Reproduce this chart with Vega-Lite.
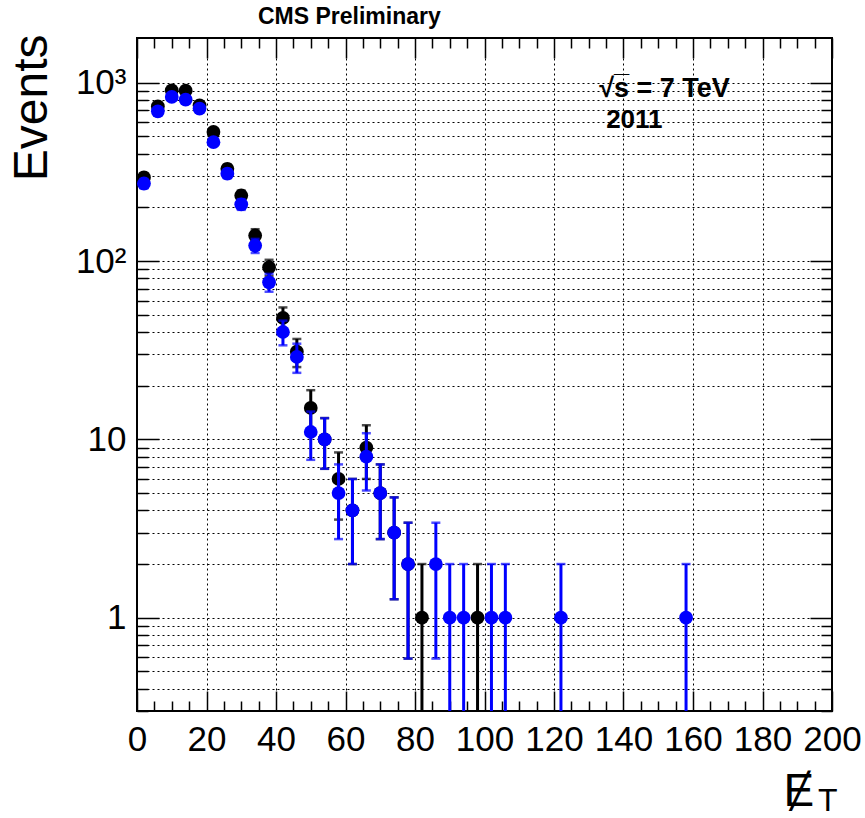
{
  "$schema": "https://vega.github.io/schema/vega-lite/v6.json",
  "width": 695,
  "height": 673,
  "autosize": {"type": "none"},
  "padding": {"left": 137, "top": 38, "right": 33, "bottom": 107},
  "background": "white",
  "config": {
    "view": {"stroke": "black", "strokeWidth": 2},
    "font": "Liberation Sans",
    "axis": {"labelFont": "Liberation Sans", "titleFont": "Liberation Sans", "domain": false}
  },
  "datasets": {
    "pts": [
      {"x": 2, "y": 294, "lo": 276.85, "hi": 311.15, "s": "black"},
      {"x": 6, "y": 736, "lo": 708.87, "hi": 763.13, "s": "black"},
      {"x": 10, "y": 906, "lo": 875.9, "hi": 936.1, "s": "black"},
      {"x": 14, "y": 902, "lo": 871.97, "hi": 932.03, "s": "black"},
      {"x": 18, "y": 746, "lo": 718.69, "hi": 773.31, "s": "black"},
      {"x": 22, "y": 529, "lo": 506, "hi": 552, "s": "black"},
      {"x": 26, "y": 329, "lo": 310.86, "hi": 347.14, "s": "black"},
      {"x": 30, "y": 233, "lo": 217.74, "hi": 248.26, "s": "black"},
      {"x": 34, "y": 139, "lo": 127.21, "hi": 150.79, "s": "black"},
      {"x": 38, "y": 92, "lo": 82.41, "hi": 101.59, "s": "black"},
      {"x": 42, "y": 48, "lo": 41.07, "hi": 54.93, "s": "black"},
      {"x": 46, "y": 31, "lo": 25.43, "hi": 36.57, "s": "black"},
      {"x": 50, "y": 15, "lo": 11.13, "hi": 18.87, "s": "black"},
      {"x": 54, "y": 10, "lo": 6.84, "hi": 13.16, "s": "black"},
      {"x": 58, "y": 6, "lo": 3.55, "hi": 8.45, "s": "black"},
      {"x": 62, "y": 4, "lo": 2, "hi": 6, "s": "black"},
      {"x": 66, "y": 9, "lo": 6, "hi": 12, "s": "black"},
      {"x": 70, "y": 5, "lo": 2.76, "hi": 7.24, "s": "black"},
      {"x": 74, "y": 3, "lo": 1.27, "hi": 4.73, "s": "black"},
      {"x": 78, "y": 2, "lo": 0.59, "hi": 3.41, "s": "black"},
      {"x": 82, "y": 1, "lo": 0, "hi": 2, "s": "black"},
      {"x": 98, "y": 1, "lo": 0, "hi": 2, "s": "black"},
      {"x": 2, "y": 272, "lo": 255.51, "hi": 288.49, "s": "blue"},
      {"x": 6, "y": 691, "lo": 664.71, "hi": 717.29, "s": "blue"},
      {"x": 10, "y": 832, "lo": 803.16, "hi": 860.84, "s": "blue"},
      {"x": 14, "y": 804, "lo": 775.65, "hi": 832.35, "s": "blue"},
      {"x": 18, "y": 716, "lo": 689.24, "hi": 742.76, "s": "blue"},
      {"x": 22, "y": 464, "lo": 442.46, "hi": 485.54, "s": "blue"},
      {"x": 26, "y": 309, "lo": 291.42, "hi": 326.58, "s": "blue"},
      {"x": 30, "y": 208, "lo": 193.58, "hi": 222.42, "s": "blue"},
      {"x": 34, "y": 122, "lo": 110.95, "hi": 133.05, "s": "blue"},
      {"x": 38, "y": 76, "lo": 67.28, "hi": 84.72, "s": "blue"},
      {"x": 42, "y": 40, "lo": 33.68, "hi": 46.32, "s": "blue"},
      {"x": 46, "y": 29, "lo": 23.61, "hi": 34.39, "s": "blue"},
      {"x": 50, "y": 11, "lo": 7.68, "hi": 14.32, "s": "blue"},
      {"x": 54, "y": 10, "lo": 6.84, "hi": 13.16, "s": "blue"},
      {"x": 58, "y": 5, "lo": 2.76, "hi": 7.24, "s": "blue"},
      {"x": 62, "y": 4, "lo": 2, "hi": 6, "s": "blue"},
      {"x": 66, "y": 8, "lo": 5.17, "hi": 10.83, "s": "blue"},
      {"x": 70, "y": 5, "lo": 2.76, "hi": 7.24, "s": "blue"},
      {"x": 74, "y": 3, "lo": 1.27, "hi": 4.73, "s": "blue"},
      {"x": 78, "y": 2, "lo": 0.59, "hi": 3.41, "s": "blue"},
      {"x": 86, "y": 2, "lo": 0.59, "hi": 3.41, "s": "blue"},
      {"x": 90, "y": 1, "lo": 0, "hi": 2, "s": "blue"},
      {"x": 94, "y": 1, "lo": 0, "hi": 2, "s": "blue"},
      {"x": 102, "y": 1, "lo": 0, "hi": 2, "s": "blue"},
      {"x": 106, "y": 1, "lo": 0, "hi": 2, "s": "blue"},
      {"x": 122, "y": 1, "lo": 0, "hi": 2, "s": "blue"},
      {"x": 158, "y": 1, "lo": 0, "hi": 2, "s": "blue"}
    ]
  },
  "data": {"name": "pts"},
  "resolve": {"axis": {"x": "independent", "y": "independent"}},
  "layer": [
    {
      "transform": [{"filter": "datum.s === 'black'"}],
      "mark": {"type": "rule", "color": "black", "strokeWidth": 3, "invalid": "show"},
      "encoding": {
        "x": {
          "field": "x", "type": "quantitative",
          "scale": {"domain": [0, 200], "nice": false, "zero": false},
          "axis": {
            "orient": "bottom",
            "values": [0,5,10,15,20,25,30,35,40,45,50,55,60,65,70,75,80,85,90,95,100,105,110,115,120,125,130,135,140,145,150,155,160,165,170,175,180,185,190,195,200],
            "labelExpr": "datum.value % 20 === 0 ? datum.label : ''",
            "labelFontSize": 35,
            "labelColor": "black",
            "labelPadding": 31,
            "labelFlush": false,
            "labelOverlap": false,
            "tickColor": "black",
            "tickWidth": 1.5,
            "tickSize": {"condition": {"test": "datum.value % 20 === 0", "value": -20}, "value": -10},
            "grid": true,
            "gridColor": "black",
            "gridDash": [2, 3],
            "gridWidth": 1,
            "gridOpacity": {"condition": {"test": "datum.value % 20 === 0", "value": 1}, "value": 0},
            "title": "Ɇ",
            "titleFontSize": 46,
            "titleFontWeight": "normal",
            "titleColor": "black",
            "titleAlign": "left",
            "titleBaseline": "alphabetic",
            "titleAnchor": "start",
            "titleX": 646,
            "titleY": 94
          }
        },
        "y": {
          "field": "lo", "type": "quantitative",
          "scale": {"type": "log", "domain": [0.3, 1780], "nice": false, "clamp": true},
          "axis": {
            "orient": "left",
            "values": [0.3,0.4,0.5,0.6,0.7,0.8,0.9,1,2,3,4,5,6,7,8,9,10,20,30,40,50,60,70,80,90,100,200,300,400,500,600,700,800,900,1000],
            "labelExpr": "datum.value == 1 ? '1' : datum.value == 10 ? '10' : datum.value == 100 ? '10²' : datum.value == 1000 ? '10³' : ''",
            "labelFontSize": 35,
            "labelColor": "black",
            "labelPadding": 33,
            "labelFlush": false,
            "labelOverlap": false,
            "tickColor": "black",
            "tickWidth": 1.5,
            "tickSize": {"condition": {"test": "indexof([1,10,100,1000], datum.value) >= 0", "value": -22}, "value": -11},
            "grid": true,
            "gridColor": "black",
            "gridDash": [2, 3],
            "gridWidth": 1,
            "title": "Events",
            "titleFontSize": 48,
            "titleFontWeight": "normal",
            "titleColor": "black",
            "titleAngle": -90,
            "titleAlign": "right",
            "titleBaseline": "alphabetic",
            "titleX": -91,
            "titleY": -4
          }
        },
        "y2": {"field": "hi"}
      }
    },
    {
      "transform": [{"filter": "datum.s === 'black'"}],
      "mark": {"type": "tick", "orient": "horizontal", "color": "black", "size": 9, "thickness": 2.5},
      "encoding": {
        "x": {
          "field": "x", "type": "quantitative",
          "axis": {
            "orient": "top",
            "values": [0,5,10,15,20,25,30,35,40,45,50,55,60,65,70,75,80,85,90,95,100,105,110,115,120,125,130,135,140,145,150,155,160,165,170,175,180,185,190,195,200],
            "labels": false,
            "grid": false,
            "title": null,
            "tickColor": "black",
            "tickWidth": 1.5,
            "tickSize": {"condition": {"test": "datum.value % 20 === 0", "value": -20}, "value": -10}
          }
        },
        "y": {
          "field": "hi", "type": "quantitative",
          "axis": {
            "orient": "right",
            "values": [0.3,0.4,0.5,0.6,0.7,0.8,0.9,1,2,3,4,5,6,7,8,9,10,20,30,40,50,60,70,80,90,100,200,300,400,500,600,700,800,900,1000],
            "labels": false,
            "grid": false,
            "title": null,
            "tickColor": "black",
            "tickWidth": 1.5,
            "tickSize": {"condition": {"test": "indexof([1,10,100,1000], datum.value) >= 0", "value": -22}, "value": -11}
          }
        }
      }
    },
    {
      "transform": [{"filter": "datum.s === 'black' && datum.lo > 0.3"}],
      "mark": {"type": "tick", "orient": "horizontal", "color": "black", "size": 9, "thickness": 2.5},
      "encoding": {
        "x": {"field": "x", "type": "quantitative", "axis": null},
        "y": {"field": "lo", "type": "quantitative", "axis": null}
      }
    },
    {
      "transform": [{"filter": "datum.s === 'black'"}],
      "mark": {"type": "point", "shape": "circle", "filled": true, "color": "black", "opacity": 1, "size": 190},
      "encoding": {
        "x": {"field": "x", "type": "quantitative", "axis": null},
        "y": {"field": "y", "type": "quantitative", "axis": null}
      }
    },
    {
      "transform": [{"filter": "datum.s === 'blue'"}],
      "mark": {"type": "rule", "color": "#0000ff", "strokeWidth": 3, "invalid": "show"},
      "encoding": {
        "x": {"field": "x", "type": "quantitative", "axis": null},
        "y": {"field": "lo", "type": "quantitative", "axis": null},
        "y2": {"field": "hi"}
      }
    },
    {
      "transform": [{"filter": "datum.s === 'blue'"}],
      "mark": {"type": "tick", "orient": "horizontal", "color": "#0000ff", "size": 9, "thickness": 2.5},
      "encoding": {
        "x": {"field": "x", "type": "quantitative", "axis": null},
        "y": {"field": "hi", "type": "quantitative", "axis": null}
      }
    },
    {
      "transform": [{"filter": "datum.s === 'blue' && datum.lo > 0.3"}],
      "mark": {"type": "tick", "orient": "horizontal", "color": "#0000ff", "size": 9, "thickness": 2.5},
      "encoding": {
        "x": {"field": "x", "type": "quantitative", "axis": null},
        "y": {"field": "lo", "type": "quantitative", "axis": null}
      }
    },
    {
      "transform": [{"filter": "datum.s === 'blue'"}],
      "mark": {"type": "point", "shape": "circle", "filled": true, "color": "#0000ff", "opacity": 1, "size": 190},
      "encoding": {
        "x": {"field": "x", "type": "quantitative", "axis": null},
        "y": {"field": "y", "type": "quantitative", "axis": null}
      }
    },
    {
      "data": {"values": [{"t": "CMS Preliminary"}]},
      "mark": {"type": "text", "align": "left", "baseline": "alphabetic", "fontSize": 23, "fontWeight": "bold", "font": "Liberation Sans", "color": "black", "dy": -14},
      "encoding": {
        "x": {"datum": 34.8, "type": "quantitative", "axis": null},
        "y": {"datum": 1780, "type": "quantitative", "axis": null},
        "text": {"field": "t"}
      }
    },
    {
      "data": {"values": [{"t": "√s̅ = 7 TeV"}]},
      "mark": {"type": "text", "align": "left", "baseline": "alphabetic", "fontSize": 27, "fontWeight": "bold", "font": "Liberation Sans", "color": "black"},
      "encoding": {
        "x": {"datum": 133, "type": "quantitative", "axis": null},
        "y": {"datum": 829, "type": "quantitative", "axis": null},
        "text": {"field": "t"}
      }
    },
    {
      "data": {"values": [{"t": "2011"}]},
      "mark": {"type": "text", "align": "left", "baseline": "alphabetic", "fontSize": 26, "fontWeight": "bold", "font": "Liberation Sans", "color": "black"},
      "encoding": {
        "x": {"datum": 135, "type": "quantitative", "axis": null},
        "y": {"datum": 555, "type": "quantitative", "axis": null},
        "text": {"field": "t"}
      }
    },
    {
      "data": {"values": [{"t": "T"}]},
      "mark": {"type": "text", "align": "center", "baseline": "alphabetic", "fontSize": 32, "font": "Liberation Sans", "color": "black", "dy": 100},
      "encoding": {
        "x": {"datum": 198.8, "type": "quantitative", "axis": null},
        "y": {"datum": 0.3, "type": "quantitative", "axis": null},
        "text": {"field": "t"}
      }
    }
  ]
}
